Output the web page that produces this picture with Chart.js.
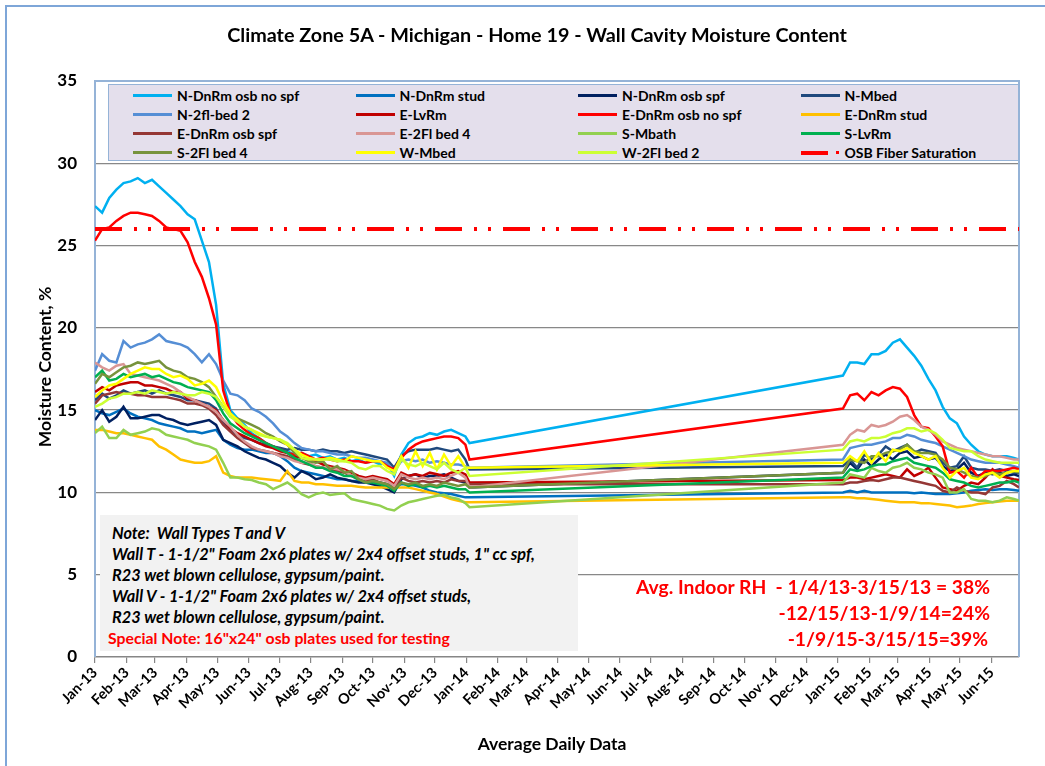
<!DOCTYPE html>
<html>
<head>
<meta charset="utf-8">
<title>Home 19 - Wall Cavity Moisture Content</title>
<script src="https://cdn.jsdelivr.net/npm/chart.js@4.4.1/dist/chart.umd.min.js"></script>
<style>
  html, body { margin: 0; padding: 0; background: #fff; overflow: hidden; }
  body { width: 1045px; height: 766px; position: relative; font-family: Lato, 'Open Sans', sans-serif; font-weight: bold; color: #000; }
  #frame { position: absolute; left: 5px; top: 5px; width: 1200px; height: 900px; border-left: 2px solid #7ea6d8; border-top: 2px solid #7ea6d8; }
  #wrap { position: absolute; left: 0; top: 0; width: 1045px; height: 766px; }
  .txt { position: absolute; white-space: nowrap; }
  #title { left: 0; width: 1074px; top: 22px; text-align: center; font-size: 19.8px; }
  #ytitle { left: 44px; top: 367px; font-size: 17.5px; transform: translate(-50%, -50%) rotate(-90deg); }
  #xtitle { left: 0; width: 1104px; top: 733px; text-align: center; font-size: 17.5px; }
  #legend { position: absolute; left: 108px; top: 84px; width: 885px; height: 74px; padding: 1px 0 0 24px;
            background: #e4dfec; border: 1.5px solid #95b3d7; display: grid;
            grid-template-columns: repeat(4, 222.5px); grid-auto-rows: 19px; font-size: 14px; }
  #legend .item { display: flex; align-items: center; }
  #legend .swatch { display: inline-block; width: 39px; height: 3px; margin-right: 5px; flex: none; position: relative; }
  #note { position: absolute; left: 100px; top: 515px; width: 466px; height: 129px; padding: 7px 0 0 12px;
          background: #f2f2f2; font-size: 16.3px; line-height: 21px; font-style: italic; }
  #note .red { color: #ff0000; font-style: normal; font-size: 15.8px; margin-left: -4px; }
  #rh { position: absolute; right: 55px; top: 574px; text-align: right; color: #ff0000; font-size: 19.3px; line-height: 26px; }
</style>
</head>
<body>
<div id="wrap"><canvas id="chart" width="1045" height="766"></canvas></div>
<div id="frame"></div>
<div class="txt" id="title">Climate Zone 5A - Michigan - Home 19 - Wall Cavity Moisture Content</div>
<div class="txt" id="ytitle">Moisture Content, %</div>
<div class="txt" id="xtitle">Average Daily Data</div>
<div id="legend"></div>
<div id="note">
  <div>Note:&nbsp; Wall Types T and V</div>
  <div>Wall T - 1-1/2" Foam 2x6 plates w/ 2x4 offset studs, 1" cc spf,</div>
  <div>R23 wet blown cellulose, gypsum/paint.</div>
  <div>Wall V - 1-1/2" Foam 2x6 plates w/ 2x4 offset studs,</div>
  <div>R23 wet blown cellulose, gypsum/paint.</div>
  <div class="red">Special Note: 16"x24" osb plates used for testing</div>
</div>
<div id="rh">
  <div>Avg. Indoor RH&nbsp; - 1/4/13-3/15/13 = 38%</div>
  <div>-12/15/13-1/9/14=24%</div>
  <div style="margin-right:2px">-1/9/15-3/15/15=39%</div>
</div>
<script>
// Sample days (days since Jan 1 2013), one reading per week
const days2013 = [0, 7, 14, 21, 28, 35, 42, 49, 56, 63,
    70, 77, 84, 91, 98, 105, 112, 119, 126, 133,
    140, 147, 154, 161, 168, 175, 182, 189, 196, 203,
    210, 217, 224, 231, 238, 245, 252, 259, 266, 273,
    280, 287, 294, 301, 308, 315, 322, 329, 336, 343,
    350, 357, 364, 368];
const days2015 = [735, 742, 749, 756, 763, 770, 777, 784, 791, 798,
    805, 812, 819, 826, 833, 840, 847, 854, 861, 868,
    875, 882, 889, 896, 903, 908];
const sampleDays = days2013.concat(days2015);

// Month axis
const monthStarts = [0, 31, 59, 90, 120, 151, 181, 212, 243, 273, 304, 334,
    365, 396, 424, 455, 485, 516, 546, 577, 608, 638, 669, 699,
    730, 761, 789, 820, 850, 881];
const monthLabels = ['Jan-13', 'Feb-13', 'Mar-13', 'Apr-13', 'May-13', 'Jun-13', 'Jul-13', 'Aug-13', 'Sep-13', 'Oct-13', 'Nov-13', 'Dec-13',
    'Jan-14', 'Feb-14', 'Mar-14', 'Apr-14', 'May-14', 'Jun-14', 'Jul-14', 'Aug-14', 'Sep-14', 'Oct-14', 'Nov-14', 'Dec-14',
    'Jan-15', 'Feb-15', 'Mar-15', 'Apr-15', 'May-15', 'Jun-15'];
const yTicks = [0, 5, 10, 15, 20, 25, 30, 35];

// Moisture content, %
const nDnRmOsbNoSpf = [27.4, 27.0, 27.9, 28.4, 28.8, 28.9, 29.1, 28.8, 29.0, 28.6,
    28.2, 27.8, 27.4, 26.9, 26.6, 25.3, 24.0, 21.4, 16.6, 15.0,
    14.5, 14.1, 13.6, 13.3, 13.0, 12.8, 12.6, 12.5, 12.3, 12.4,
    12.2, 12.3, 12.1, 12.2, 12.0, 12.1, 11.9, 12.0, 11.8, 11.9,
    11.7, 11.8, 11.0, 12.3, 13.0, 13.3, 13.4, 13.6, 13.5, 13.7,
    13.8, 13.6, 13.4, 13.0,
    17.1, 17.9, 17.9, 17.8, 18.4, 18.4, 18.6, 19.1, 19.3, 18.8,
    18.3, 17.7, 16.9, 16.2, 15.2, 14.5, 14.2, 13.4, 12.9, 12.5,
    12.3, 12.2, 12.2, 12.2, 12.1, 12.0];
const nDnRmStud = [15.0, 14.8, 14.7, 14.9, 15.1, 14.8, 14.6, 14.5, 14.4, 14.2,
    14.1, 14.0, 13.9, 13.7, 13.7, 13.6, 13.7, 13.8, 13.2, 12.9,
    12.7, 12.6, 12.6, 12.5, 12.4, 12.4, 12.2, 11.9, 11.5, 11.3,
    11.2, 11.1, 11.0, 10.9, 10.8, 10.8, 10.7, 10.7, 10.6, 10.6,
    10.6, 10.5, 10.4, 10.5, 10.5, 10.4, 10.3, 10.1, 10.0, 9.95,
    9.9, 9.8, 9.7, 9.7,
    10.0, 10.1, 10.0, 10.1, 10.0, 10.0, 10.0, 10.0, 10.0, 10.0,
    9.95, 10.0, 9.95, 9.9, 9.9, 9.9, 9.95, 10.0, 10.1, 10.15,
    10.2, 10.15, 10.2, 10.2, 10.15, 10.1];
const nDnRmOsbSpf = [14.4, 15.0, 14.3, 14.6, 15.2, 14.5, 14.5, 14.6, 14.7, 14.7,
    14.5, 14.4, 14.2, 14.1, 14.2, 14.3, 14.4, 14.1, 13.2, 13.0,
    12.8, 12.5, 12.3, 12.1, 12.0, 11.8, 11.6, 11.2, 10.9, 11.3,
    11.1, 10.8, 10.9, 11.1, 10.9, 10.8, 10.7, 10.6, 10.6, 10.5,
    10.4, 10.2, 10.0, 10.8, 11.0, 11.1, 10.9, 11.0, 11.0, 11.1,
    10.9, 10.7, 10.6, 10.3,
    11.2, 11.8, 11.4, 12.0, 11.6, 12.0, 12.3, 12.0, 12.4, 12.5,
    12.1, 12.2, 12.0, 12.1, 11.6, 11.3, 11.4, 11.8, 11.2, 11.0,
    11.2, 11.1, 11.2, 11.0, 11.1, 11.0];
const nMbed = [15.6, 16.0, 15.7, 15.9, 16.2, 16.0, 16.1, 16.2, 16.0, 16.2,
    16.0, 15.9, 15.8, 15.6, 15.6, 15.5, 15.4, 15.1, 14.3, 13.8,
    13.5, 13.3, 13.2, 13.0, 12.9, 12.8, 12.7, 12.6, 12.7, 12.6,
    12.6, 12.5, 12.6, 12.5, 12.5, 12.4, 12.5, 12.4, 12.3, 12.2,
    12.1, 12.0, 11.5, 12.2, 12.5, 12.6, 12.6, 12.6, 12.7, 12.6,
    12.5, 12.6, 12.0, 11.4,
    11.6, 12.0, 11.5, 12.3, 12.0, 12.3, 12.8, 12.5, 12.7, 12.9,
    12.4, 12.6, 12.5, 12.4, 11.8, 11.5, 11.6, 12.2, 11.5, 11.4,
    11.4, 11.3, 11.4, 11.3, 11.2, 11.2];
const n2flBed2 = [17.4, 18.4, 18.0, 17.9, 19.2, 18.8, 19.0, 19.1, 19.3, 19.6,
    19.2, 19.1, 19.0, 18.8, 18.4, 17.9, 18.4, 17.8, 16.8, 16.0,
    15.9, 15.6, 15.1, 14.9, 14.6, 14.2, 13.7, 13.4, 13.0, 12.7,
    12.6, 12.5, 12.5, 12.4, 12.3, 12.3, 12.2, 12.1, 12.1, 12.0,
    11.9, 11.8, 11.3, 11.9, 12.0, 11.9, 12.0, 11.8, 11.9, 11.8,
    11.7, 11.7, 11.6, 11.5,
    12.0, 12.7, 12.8, 12.9, 12.9, 13.0, 13.1, 13.3, 13.3, 13.5,
    13.4, 13.2, 13.1, 13.0, 12.8, 12.6, 12.4, 12.2, 12.0, 11.9,
    11.8, 11.8, 11.8, 11.7, 11.6, 11.5];
const eLvRm = [16.1, 16.4, 16.2, 16.5, 16.6, 16.7, 16.7, 16.5, 16.5, 16.4,
    16.3, 16.1, 16.1, 15.7, 15.6, 15.4, 15.2, 15.0, 14.4, 13.9,
    13.6, 13.4, 13.2, 13.0, 12.8, 12.7, 12.5, 12.4, 12.2, 12.1,
    12.0, 11.9, 11.7, 11.6, 11.5, 11.4, 11.2, 11.0, 10.9, 11.0,
    10.9, 10.8, 10.5, 11.2, 11.0, 11.1, 11.0, 11.2, 11.1, 11.0,
    11.2, 11.3, 11.1, 10.6,
    10.75, 10.9, 10.9, 10.8, 10.9, 11.0, 11.1, 11.0, 10.9, 11.4,
    11.0, 11.2, 11.5, 10.9, 10.3, 10.2, 10.1, 10.4, 10.6, 10.5,
    10.9, 11.4, 11.0, 10.9, 10.8, 10.75];
const eDnRmOsbNoSpf = [25.3, 26.0, 26.1, 26.5, 26.8, 27.0, 27.0, 26.9, 26.8, 26.5,
    26.1, 26.0, 25.9, 25.2, 24.0, 23.1, 21.8, 20.2, 16.2, 14.8,
    14.2, 13.8, 13.5, 13.3, 13.0, 12.8, 12.6, 12.4, 12.3, 12.4,
    12.2, 12.0, 12.1, 12.0, 11.9, 12.0, 11.9, 11.9, 11.8, 11.9,
    11.9, 11.6, 11.4, 12.1, 12.6, 12.9, 13.1, 13.2, 13.3, 13.4,
    13.4, 13.3, 12.9, 12.0,
    15.1, 15.9, 16.0, 15.6, 16.1, 15.9, 16.2, 16.4, 16.3, 15.8,
    14.7, 14.0, 13.9, 13.4, 12.8, 11.2, 11.3, 10.9, 11.5, 10.9,
    11.3, 11.3, 11.3, 11.4, 11.5, 11.4];
const eDnRmStud = [13.8, 13.8, 13.7, 13.6, 13.6, 13.5, 13.4, 13.3, 13.2, 12.8,
    12.6, 12.3, 12.0, 11.9, 11.8, 11.8, 11.9, 12.2, 11.2, 11.0,
    10.9, 10.9, 10.9, 10.85, 10.8, 10.75, 10.7, 11.3, 10.7, 10.6,
    10.6, 10.5, 10.5, 10.45, 10.4, 10.4, 10.4, 10.35, 10.3, 10.3,
    10.3, 10.3, 10.3, 10.3, 10.3, 10.2, 10.1, 10.0, 9.9, 9.75,
    9.6, 9.5, 9.4, 9.4,
    9.7, 9.7, 9.65, 9.65, 9.6, 9.55, 9.5, 9.45, 9.4, 9.4,
    9.4, 9.35, 9.35, 9.3, 9.25, 9.2, 9.1, 9.15, 9.2, 9.3,
    9.35, 9.4, 9.45, 9.5, 9.5, 9.5];
const eDnRmOsbSpf = [15.4, 15.9, 16.0, 16.1, 16.0, 16.0, 15.9, 15.9, 15.8, 15.8,
    15.8, 15.7, 15.6, 15.4, 15.4, 15.3, 15.1, 14.7, 14.1, 13.7,
    13.3, 13.0, 12.7, 12.6, 12.5, 12.4, 12.3, 12.2, 12.0, 11.8,
    11.7, 11.6, 11.5, 11.4, 11.3, 11.2, 11.0, 10.8, 10.7, 10.8,
    10.6, 10.5, 10.2, 10.9, 10.7, 10.6, 10.7, 10.6, 10.7, 10.6,
    10.8, 10.7, 10.7, 10.5,
    10.5, 10.6, 10.6, 10.7, 10.75, 10.7, 10.8, 10.9, 10.9, 10.8,
    10.7, 10.6, 10.5, 10.4, 10.1, 10.0, 10.3, 10.1, 10.0, 10.0,
    9.9, 10.3, 10.4, 10.7, 10.5, 10.3];
const e2flBed4 = [17.9, 17.6, 17.4, 17.7, 17.8, 17.2, 17.1, 17.0, 16.9, 16.8,
    16.6, 16.4, 16.1, 15.8, 15.6, 15.4, 15.2, 14.9, 14.4, 14.0,
    13.5, 13.1, 12.8, 12.6, 12.5, 12.4, 12.2, 12.1, 11.9, 11.8,
    11.8, 11.6, 11.5, 11.5, 11.4, 11.3, 11.0, 10.9, 10.8, 10.9,
    10.8, 10.7, 10.4, 11.1, 10.9, 10.8, 10.9, 10.8, 10.9, 10.8,
    11.0, 11.2, 10.9, 10.3,
    12.9, 13.5, 13.8, 13.7, 14.1, 14.0, 14.1, 14.3, 14.6, 14.7,
    14.4, 14.0, 13.8, 13.5, 13.1, 12.9, 12.7, 12.6, 12.5, 12.4,
    12.3, 12.2, 12.2, 12.1, 12.0, 12.0];
const sMbath = [13.6, 14.0, 13.3, 13.3, 13.8, 13.5, 13.6, 13.7, 13.9, 13.8,
    13.5, 13.4, 13.3, 13.2, 13.0, 12.9, 12.8, 12.6, 11.8, 10.9,
    10.9, 10.8, 10.75, 10.6, 10.5, 10.2, 10.4, 10.6, 10.3, 9.9,
    9.7, 9.9, 10.0, 9.85, 9.9, 9.95, 9.6, 9.5, 9.4, 9.3,
    9.2, 9.0, 8.9, 9.2, 9.4, 9.5, 9.6, 9.7, 9.8, 9.85,
    9.7, 9.6, 9.35, 9.1,
    10.6, 11.1, 11.0, 10.9, 11.5, 11.3, 11.2, 11.5, 11.6, 11.8,
    11.5, 11.4, 11.2, 11.1, 10.9, 10.0, 10.0, 10.2, 9.6, 9.5,
    9.5, 9.4, 9.5, 9.7, 9.6, 9.5];
const sLvRm = [17.0, 17.4, 16.8, 16.9, 17.2, 17.0, 17.1, 17.2, 17.0, 17.1,
    16.9, 16.7, 16.6, 16.4, 16.3, 16.2, 16.1, 15.6, 14.8, 14.2,
    13.9, 13.6, 13.4, 13.2, 13.0, 12.8, 12.6, 12.4, 12.1, 11.9,
    11.7, 11.5, 11.5, 11.3, 11.2, 11.0, 11.0, 10.8, 10.6, 10.6,
    10.5, 10.4, 10.1, 10.6, 10.4, 10.5, 10.3, 10.4, 10.3, 10.4,
    10.3, 10.2, 10.2, 10.0,
    10.9, 11.4, 11.3, 11.4, 11.6, 11.7, 11.7, 11.9, 12.0, 12.1,
    11.8, 11.7, 11.6, 11.5, 11.2, 10.8, 10.7, 10.6, 10.4, 10.3,
    10.4, 10.5, 10.6, 10.6, 10.7, 10.6];
const s2flBed4 = [16.6, 17.2, 17.0, 17.3, 17.6, 17.7, 17.9, 17.8, 17.9, 18.0,
    17.6, 17.4, 17.3, 17.0, 16.9, 16.7, 16.4, 15.8, 15.2, 14.6,
    14.5, 14.3, 14.1, 13.9, 13.6, 13.4, 13.1, 12.9, 12.4, 12.1,
    11.9, 11.8, 11.9, 11.4, 11.6, 11.2, 11.3, 10.8, 10.6, 10.7,
    10.6, 10.5, 10.2, 10.6, 10.5, 10.6, 10.4, 10.5, 10.4, 10.6,
    10.5, 10.4, 10.5, 10.3,
    11.2, 12.0, 11.9, 11.8, 12.2, 12.2, 12.4, 12.5, 12.6, 12.9,
    12.5, 12.4, 12.4, 12.3, 12.0, 11.5, 11.4, 11.2, 11.0, 10.9,
    11.0, 11.2, 11.1, 11.2, 11.3, 11.2];
const wMbed = [15.8, 16.2, 16.5, 16.6, 16.9, 17.2, 17.4, 17.6, 17.5, 17.5,
    17.2, 17.0, 17.1, 16.9, 16.5, 16.6, 16.8, 16.4, 15.5, 14.8,
    14.4, 14.0, 13.8, 13.6, 13.4, 13.3, 13.2, 12.9, 12.6, 12.3,
    12.1, 12.0, 12.0, 12.1, 12.0, 11.9, 12.2, 12.1, 12.0, 11.9,
    11.9, 11.5, 11.3, 12.2, 11.5, 12.5, 11.6, 12.4, 11.4, 12.3,
    11.6, 12.2, 11.5, 11.5,
    11.8, 12.2, 11.9, 12.5, 11.8, 12.4, 11.9, 12.6, 12.5, 12.7,
    12.4, 12.2, 12.0, 12.2, 11.5, 10.9, 11.3, 11.5, 10.9, 10.8,
    11.1, 11.2, 10.9, 11.2, 11.3, 11.3];
const w2flBed2 = [15.2, 15.4, 15.7, 15.8, 16.0, 16.0, 16.1, 16.0, 16.2, 16.1,
    16.0, 16.1, 16.0, 15.9, 15.9, 16.1, 16.0, 15.8, 15.2, 14.6,
    14.3, 14.0, 13.8, 13.5, 13.4, 13.3, 13.2, 13.0, 12.6, 12.1,
    12.0, 12.0, 12.0, 12.0, 11.9, 11.9, 11.8, 11.5, 11.4, 11.6,
    11.6, 11.3, 11.1, 12.0, 11.7, 11.6, 11.8, 11.6, 11.4, 11.8,
    11.4, 11.2, 11.5, 11.0,
    12.6, 13.1, 13.2, 13.1, 13.3, 13.3, 13.4, 13.6, 13.7, 13.9,
    13.9, 13.7, 13.8, 13.6, 13.2, 12.7, 12.6, 12.5, 12.5, 12.2,
    12.0, 11.9, 11.8, 11.8, 11.8, 11.8];
const saturationDays = [0, 908];
const saturationLevel = [26, 26];

const seriesNames = ['N-DnRm osb no spf', 'N-DnRm stud', 'N-DnRm osb spf', 'N-Mbed',
    'N-2fl-bed 2', 'E-LvRm', 'E-DnRm osb no spf', 'E-DnRm stud',
    'E-DnRm osb spf', 'E-2Fl bed 4', 'S-Mbath', 'S-LvRm',
    'S-2Fl bed 4', 'W-Mbed', 'W-2Fl bed 2'];
const seriesValues = [nDnRmOsbNoSpf, nDnRmStud, nDnRmOsbSpf, nMbed,
    n2flBed2, eLvRm, eDnRmOsbNoSpf, eDnRmStud,
    eDnRmOsbSpf, e2flBed4, sMbath, sLvRm,
    s2flBed4, wMbed, w2flBed2];
const seriesColors = ['#00b0f0', '#0070c0', '#002060', '#1f497d',
    '#558ed5', '#c00000', '#ff0000', '#ffc000',
    '#953735', '#d99694', '#92d050', '#00b050',
    '#77933c', '#ffff00', '#ccff33'];

const datasets = seriesNames.map((name, i) => ({
    label: name,
    data: sampleDays.map((d, j) => ({ x: d, y: seriesValues[i][j] })),
    borderColor: seriesColors[i],
    backgroundColor: seriesColors[i],
    borderWidth: 2.5,
    pointRadius: 0,
    tension: 0,
    order: seriesNames.length - i
}));
datasets.push({
    label: 'OSB Fiber Saturation',
    data: saturationDays.map((d, j) => ({ x: d, y: saturationLevel[j] })),
    borderColor: '#ff0000',
    backgroundColor: '#ff0000',
    borderWidth: 4,
    borderDash: [27, 12, 3, 11, 3, 12],
    borderCapStyle: 'butt',
    pointRadius: 0,
    order: 0
});

// Legend as HTML, built from the chart's datasets
const htmlLegend = {
    id: 'htmlLegend',
    afterUpdate(chart) {
        const box = document.getElementById('legend');
        box.innerHTML = '';
        chart.data.datasets.forEach(ds => {
            const item = document.createElement('div');
            item.className = 'item';
            const swatch = document.createElement('span');
            swatch.className = 'swatch';
            if (ds.borderDash) {
                swatch.style.height = '4px';
                swatch.innerHTML = '<span style="position:absolute;left:0;top:0;width:27px;height:4px;background:' + ds.borderColor + '"></span>' +
                    '<span style="position:absolute;left:35px;top:0.5px;width:3px;height:3px;background:' + ds.borderColor + '"></span>';
            } else {
                swatch.style.background = ds.borderColor;
            }
            const text = document.createElement('span');
            text.textContent = ds.label;
            item.appendChild(swatch);
            item.appendChild(text);
            box.appendChild(item);
        });
    }
};

// Plot area border (left, top, right)
const plotBorder = {
    id: 'plotBorder',
    beforeDatasetsDraw(chart) {
        const { ctx, chartArea: a } = chart;
        ctx.save();
        ctx.strokeStyle = '#95b3d7';
        ctx.lineWidth = 2;
        ctx.beginPath();
        ctx.moveTo(a.left, a.bottom);
        ctx.lineTo(a.left, a.top);
        ctx.lineTo(a.right, a.top);
        ctx.lineTo(a.right, a.bottom);
        ctx.stroke();
        ctx.restore();
    }
};

const tickFont = { family: 'Lato', weight: 'bold', size: 14.5 };

new Chart(document.getElementById('chart'), {
    type: 'line',
    data: { datasets },
    options: {
        responsive: false,
        animation: false,
        events: [],
        layout: { padding: { top: 81, right: 26, left: 0, bottom: 0 } },
        plugins: {
            legend: { display: false },
            tooltip: { enabled: false },
            title: { display: false }
        },
        scales: {
            x: {
                type: 'linear',
                min: 0,
                max: 908,
                afterBuildTicks: scale => { scale.ticks = monthStarts.map(v => ({ value: v })); },
                afterFit: scale => { scale.height = 109; },
                ticks: {
                    autoSkip: false,
                    minRotation: 45,
                    maxRotation: 45,
                    padding: 1,
                    color: '#000',
                    font: tickFont,
                    callback: (value, index) => monthLabels[index]
                },
                grid: { drawOnChartArea: false, drawTicks: true, tickLength: 6, color: '#868686', lineWidth: 1.2 },
                border: { color: '#868686', width: 1.5 }
            },
            y: {
                min: 0,
                max: 35,
                afterBuildTicks: scale => { scale.ticks = yTicks.map(v => ({ value: v })); },
                afterFit: scale => { scale.width = 95; },
                ticks: {
                    padding: 18,
                    color: '#000',
                    font: { family: 'Lato', weight: 'bold', size: 17 }
                },
                grid: {
                    drawTicks: false,
                    lineWidth: 1.3,
                    color: c => (c.tick && (c.tick.value === 0 || c.tick.value === 35)) ? 'rgba(0,0,0,0)' : '#888888'
                },
                border: { display: false }
            }
        }
    },
    plugins: [htmlLegend, plotBorder]
});
</script>
</body>
</html>
